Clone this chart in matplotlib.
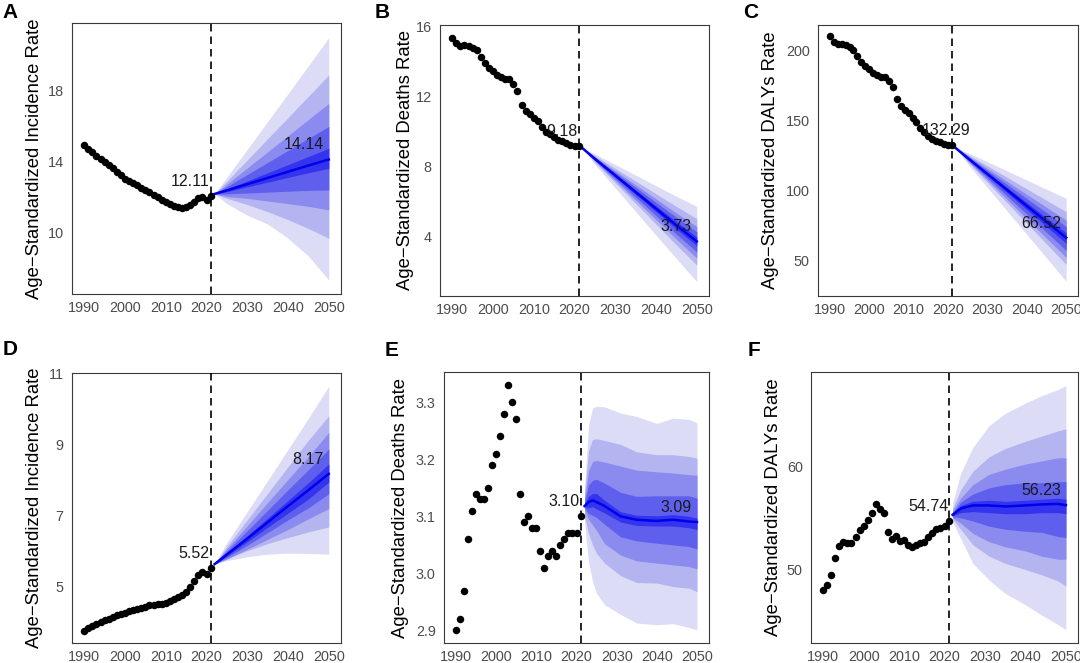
import matplotlib
matplotlib.use("Agg")
import matplotlib.pyplot as plt
from matplotlib.ticker import FormatStrFormatter

plt.rcParams["font.family"] = ["Liberation Sans", "DejaVu Sans"]

W, H = 1080, 663

years_obs = list(range(1990, 2022))
proj_years = [2022, 2025, 2030, 2035, 2040, 2045, 2050]

# ---- A: incidence (row 1)
a_obs = [14.96, 14.72, 14.55, 14.36, 14.17, 13.99, 13.81, 13.64, 13.46, 13.25,
         13.05, 12.90, 12.80, 12.69, 12.56, 12.43, 12.28, 12.14, 12.00, 11.87,
         11.74, 11.63, 11.53, 11.46, 11.42, 11.45, 11.56, 11.76, 11.95, 12.05,
         11.85, 12.11]
a_med = [12.2, 12.4, 12.75, 13.1, 13.45, 13.8, 14.14]
a_upper = [[12.2, 13.14, 14.71, 16.28, 17.85, 19.42, 21.0],
           [12.2, 12.92, 14.11, 15.31, 16.5, 17.7, 18.9],
           [12.2, 12.75, 13.66, 14.57, 15.48, 16.39, 17.3],
           [12.2, 12.61, 13.29, 13.97, 14.65, 15.33, 16.0],
           [12.2, 12.48, 12.93, 13.39, 13.85, 14.31, 14.77]]
a_lower = [[12.2, 11.65, 11.0, 10.5, 9.7, 8.7, 7.35],
           [12.2, 11.95, 11.6, 11.2, 10.75, 10.25, 9.7],
           [12.2, 12.05, 11.95, 11.8, 11.65, 11.5, 11.3],
           [12.2, 12.2, 12.25, 12.3, 12.35, 12.4, 12.42],
           [12.2, 12.33, 12.6, 12.86, 13.13, 13.39, 13.64]]

# ---- B: deaths (row 1)
b_obs = [15.35, 15.05, 14.90, 14.95, 14.90, 14.80, 14.65, 14.25, 13.90, 13.65,
         13.45, 13.25, 13.10, 13.00, 13.00, 12.70, 12.35, 11.55, 11.20, 11.00,
         10.80, 10.60, 10.25, 10.00, 9.85, 9.70, 9.55, 9.45, 9.35, 9.25,
         9.20, 9.18]
b_med = [9.05, 8.45, 7.5, 6.55, 5.6, 4.65, 3.73]
b_upper = [[9.05, 8.73, 8.12, 7.52, 6.91, 6.31, 5.73],
           [9.05, 8.63, 7.90, 7.18, 6.45, 5.73, 5.03],
           [9.05, 8.57, 7.76, 6.96, 6.16, 5.35, 4.58],
           [9.05, 8.53, 7.67, 6.82, 5.96, 5.11, 4.28],
           [9.05, 8.48, 7.58, 6.67, 5.76, 4.86, 3.98]]
b_lower = [[9.05, 8.13, 6.79, 5.44, 4.09, 2.75, 1.43],
           [9.05, 8.26, 7.08, 5.90, 4.72, 3.53, 2.38],
           [9.05, 8.32, 7.21, 6.09, 4.98, 3.86, 2.78],
           [9.05, 8.37, 7.31, 6.26, 5.21, 4.15, 3.13],
           [9.05, 8.42, 7.42, 6.43, 5.44, 4.44, 3.48]]

# ---- C: DALYs (row 1)
c_obs = [210.0, 206.0, 204.0, 204.5, 203.5, 202.5, 200.0, 195.5, 191.5, 189.0,
         186.5, 184.0, 182.0, 181.0, 181.0, 178.0, 173.5, 165.0, 160.0, 157.5,
         155.0, 152.0, 148.5, 144.5, 141.5, 139.0, 137.0, 135.5, 134.5, 133.5,
         132.5, 132.29]
c_med = [130.2, 123.22, 111.88, 100.54, 89.2, 77.86, 66.52]
c_upper = [[130.2, 127.08, 120.56, 114.06, 107.54, 101.04, 94.52],
           [130.2, 125.77, 117.62, 109.48, 101.32, 93.18, 85.02],
           [130.2, 124.95, 115.76, 106.58, 97.39, 88.21, 79.02],
           [130.2, 124.32, 114.36, 104.40, 94.44, 84.48, 74.52],
           [130.2, 123.70, 112.97, 102.23, 91.49, 80.76, 70.02]]
c_lower = [[130.2, 118.94, 102.27, 85.57, 68.89, 52.19, 35.52],
           [130.2, 120.60, 105.99, 91.36, 76.75, 62.13, 47.52],
           [130.2, 121.29, 107.54, 93.78, 80.03, 66.27, 52.52],
           [130.2, 121.98, 109.09, 96.19, 83.30, 70.41, 57.52],
           [130.2, 122.67, 110.64, 98.61, 86.58, 74.55, 62.52]]

# ---- D: incidence (row 2)
d_obs = [3.72, 3.80, 3.87, 3.93, 3.98, 4.03, 4.08, 4.13, 4.17, 4.21,
         4.25, 4.29, 4.33, 4.36, 4.39, 4.42, 4.45, 4.47, 4.48, 4.50,
         4.53, 4.57, 4.62, 4.68, 4.75, 4.84, 4.97, 5.15, 5.32, 5.40,
         5.35, 5.52]
d_med = [5.62, 5.89, 6.34, 6.80, 7.26, 7.71, 8.17]
d_upper = [[5.62, 6.23, 7.10, 7.98, 8.86, 9.74, 10.65],
           [5.62, 6.12, 6.87, 7.62, 8.37, 9.12, 9.81],
           [5.62, 6.05, 6.70, 7.36, 8.01, 8.66, 9.34],
           [5.62, 5.99, 6.56, 7.14, 7.72, 8.29, 8.87],
           [5.62, 5.92, 6.42, 6.92, 7.42, 7.92, 8.45]]
d_lower = [[5.62, 5.72, 5.83, 5.90, 5.93, 5.92, 5.90],
           [5.62, 5.78, 6.00, 6.20, 6.37, 6.53, 6.67],
           [5.62, 5.76, 6.04, 6.32, 6.60, 6.90, 7.19],
           [5.62, 5.81, 6.15, 6.51, 6.87, 7.21, 7.61],
           [5.62, 5.85, 6.25, 6.66, 7.06, 7.46, 7.94]]

# ---- E: deaths (row 2)
e_obs = [2.90, 2.92, 2.97, 3.06, 3.11, 3.14, 3.13, 3.13, 3.15, 3.19,
         3.21, 3.24, 3.28, 3.33, 3.30, 3.27, 3.14, 3.09, 3.10, 3.08,
         3.08, 3.04, 3.01, 3.03, 3.04, 3.03, 3.05, 3.06, 3.07, 3.07,
         3.07, 3.10]
e_years = [2022, 2023, 2024, 2025, 2027, 2031, 2035, 2040, 2044, 2048, 2050]
e_med = [3.118, 3.125, 3.128, 3.125, 3.118, 3.100, 3.094, 3.092, 3.094, 3.091, 3.09]
e_upper = [[3.15, 3.26, 3.29, 3.293, 3.292, 3.281, 3.275, 3.263, 3.272, 3.270, 3.264],
           [3.14, 3.215, 3.235, 3.236, 3.233, 3.226, 3.213, 3.208, 3.208, 3.205, 3.202],
           [3.13, 3.18, 3.196, 3.198, 3.195, 3.188, 3.181, 3.178, 3.176, 3.173, 3.172],
           [3.125, 3.155, 3.163, 3.165, 3.158, 3.142, 3.135, 3.136, 3.136, 3.136, 3.132],
           [3.122, 3.135, 3.140, 3.140, 3.128, 3.108, 3.102, 3.101, 3.103, 3.100, 3.097]]
e_lower = [[3.09, 3.02, 2.985, 2.965, 2.945, 2.928, 2.913, 2.910, 2.912, 2.905, 2.901],
           [3.10, 3.07, 3.05, 3.035, 3.018, 2.996, 2.984, 2.983, 2.977, 2.974, 2.968],
           [3.11, 3.095, 3.085, 3.075, 3.052, 3.032, 3.022, 3.018, 3.015, 3.012, 3.008],
           [3.115, 3.105, 3.102, 3.098, 3.086, 3.064, 3.057, 3.053, 3.050, 3.047, 3.043],
           [3.118, 3.115, 3.117, 3.113, 3.106, 3.090, 3.084, 3.083, 3.083, 3.080, 3.077]]

# ---- F: DALYs (row 2)
f_obs = [48.0, 48.5, 49.5, 51.1, 52.3, 52.7, 52.6, 52.6, 53.1, 53.8,
         54.2, 54.8, 55.5, 56.3, 55.9, 55.5, 53.6, 53.0, 53.2, 52.8,
         52.9, 52.4, 52.2, 52.4, 52.6, 52.7, 53.1, 53.5, 53.9, 54.0,
         54.2, 54.74]
f_years = [2022, 2024, 2027, 2031, 2035, 2040, 2044, 2048, 2050]
f_med = [55.3, 55.9, 56.2, 56.2, 56.1, 56.2, 56.3, 56.35, 56.23]
f_upper = [[56.4, 59.3, 61.8, 63.9, 65.1, 66.1, 66.8, 67.4, 67.8],
           [55.9, 57.7, 59.5, 60.9, 61.7, 62.4, 62.9, 63.4, 63.6],
           [55.7, 56.9, 58.2, 59.2, 59.7, 60.2, 60.5, 60.8, 60.8],
           [55.5, 56.5, 57.3, 57.9, 58.2, 58.4, 58.4, 58.5, 58.5],
           [55.4, 56.2, 56.6, 56.7, 56.6, 56.7, 56.8, 56.9, 56.8]]
f_lower = [[54.6, 53.0, 50.6, 49.0, 47.7, 46.6, 45.6, 44.7, 44.2],
           [54.9, 53.9, 52.4, 51.3, 50.6, 50.0, 49.5, 48.9, 48.4],
           [55.0, 54.5, 53.5, 52.7, 52.2, 51.8, 51.3, 51.0, 51.0],
           [55.1, 55.0, 54.7, 54.2, 53.9, 53.7, 53.6, 53.2, 53.1],
           [55.2, 55.5, 55.6, 55.5, 55.4, 55.4, 55.5, 55.5, 55.4]]

band_colors = ["#DCDCF7", "#B4B4F1", "#8A8AEF", "#5F5FED", "#3434EE"]
line_color = "#0000EE"
tick_grey = "#4D4D4D"


def px_rect(left, top, right, bottom):
    return [left / W, 1 - bottom / H, (right - left) / W, (bottom - top) / H]


def panel(fig, rect, obs, fyears, med, upper, lower, ylabel, yticks, ylim,
          label_x, first_dx=-1, fmt=None):
    ax = fig.add_axes(px_rect(*rect))
    for lo, hi, col in zip(lower, upper, band_colors):
        ax.fill_between(fyears, lo, hi, color=col, lw=0, zorder=1)
    ax.plot(fyears, med, color=line_color, lw=1.8, zorder=2)
    ax.axvline(2021, color="black", lw=1.2, ls=(0, (4.5, 3)), zorder=3)
    ax.plot(years_obs, obs, "o", color="black", ms=5.4, mew=0, zorder=4)

    ax.annotate(f"{obs[-1]:.2f}", xy=(years_obs[-1], obs[-1]),
                xytext=(first_dx, 10), textcoords="offset pixels",
                ha="right", va="baseline", fontsize=11.5, color="#1A1A1A",
                zorder=5)
    ax.annotate(f"{med[-1]:.2f}", xy=(fyears[-1], med[-1]),
                xytext=(-5, 10), textcoords="offset pixels",
                ha="right", va="baseline", fontsize=11.5, color="#1A1A1A",
                zorder=5)

    ax.set_xlim(1987, 2053)
    ax.set_ylim(*ylim)
    ax.set_xticks(range(1990, 2051, 10))
    ax.set_yticks(yticks)
    if fmt:
        ax.yaxis.set_major_formatter(FormatStrFormatter(fmt))
    ax.tick_params(length=0, labelsize=10.4, labelcolor=tick_grey)
    ax.tick_params(axis="x", pad=5)
    ax.tick_params(axis="y", pad=6)
    for s in ax.spines.values():
        s.set_color("#3A3A3A")
        s.set_linewidth(0.8)
    ax.set_ylabel(ylabel, fontsize=13.3, color="black")
    ax.yaxis.label.set_va("center")
    ax.yaxis.set_label_coords(label_x, 0.5)
    return ax


fig = plt.figure(figsize=(W / 100, H / 100), dpi=100)

panel(fig, (72, 23, 341, 294), a_obs, proj_years, a_med, a_upper, a_lower,
      "Age\u2212Standardized Incidence Rate", [10, 14, 18], (6.56, 21.83), -0.141)
panel(fig, (440, 25, 709, 296), b_obs, proj_years, b_med, b_upper, b_lower,
      "Age\u2212Standardized Deaths Rate", [4, 8, 12, 16], (0.61, 16.1), -0.130)
panel(fig, (818, 25, 1078, 296), c_obs, proj_years, c_med, c_upper, c_lower,
      "Age\u2212Standardized DALYs Rate", [50, 100, 150, 200], (25.1, 217.8), -0.181,
      first_dx=18)
panel(fig, (72, 373, 341, 643), d_obs, proj_years, d_med, d_upper, d_lower,
      "Age\u2212Standardized Incidence Rate", [5, 7, 9, 11], (3.39, 11.02), -0.141)
panel(fig, (444, 372, 709, 643), e_obs, e_years, e_med, e_upper, e_lower,
      "Age\u2212Standardized Deaths Rate", [2.9, 3.0, 3.1, 3.2, 3.3], (2.878, 3.353),
      -0.166, fmt="%.1f")
panel(fig, (811, 372, 1078, 643), f_obs, f_years, f_med, f_upper, f_lower,
      "Age\u2212Standardized DALYs Rate", [50, 60], (42.9, 69.1), -0.139, first_dx=0)

for letter, x, y in [("A", 2, 3), ("B", 375, 3), ("C", 743, 3),
                     ("D", 3, 340), ("E", 385, 341), ("F", 748, 341)]:
    fig.text(x / W, 1 - y / H, letter, fontsize=15, fontweight="bold",
             ha="left", va="top")

fig.savefig("out.png", dpi=100, facecolor="white")
